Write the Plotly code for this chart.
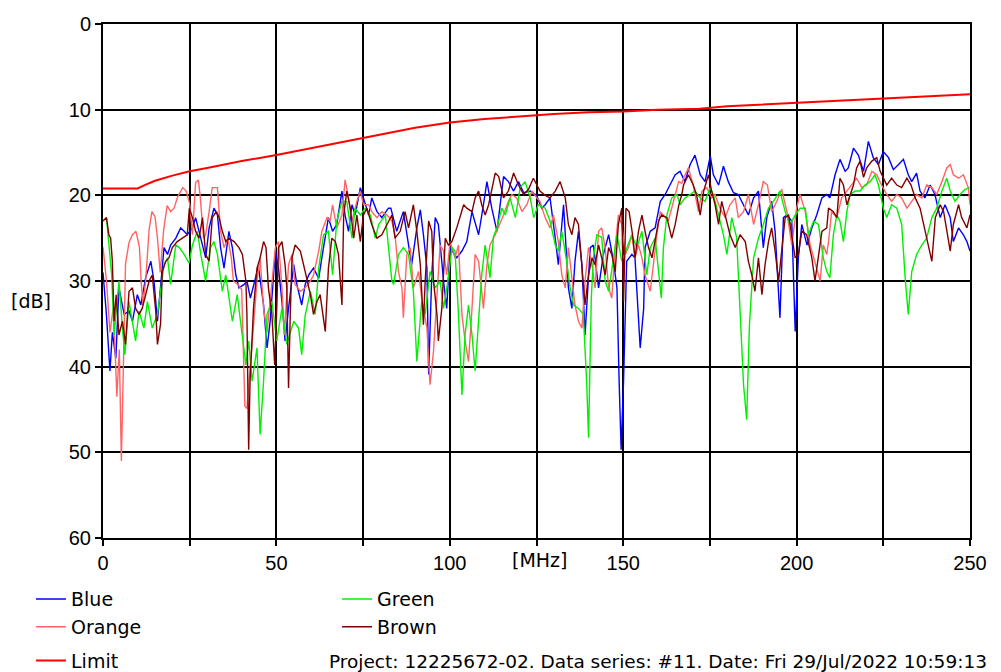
import plotly.graph_objects as go

# ---------------- data (frequency in MHz, level in dB) ----------------
blue_f = [0, 1, 2, 2.7, 3.7, 4.6, 6.1, 7.5, 8.5, 9.9, 10.9, 12.3, 13.8, 14.7, 15.7, 16.6, 17.6, 18.6, 19.5, 21, 22.4, 23.4, 24.3, 25.8, 26.7, 27.7, 28.7, 29.6, 30.6, 32, 33, 33.9, 34.9, 36.3, 37.3, 38.3, 39.2, 40.7,
          41.5, 42.5, 44.8, 46.3, 47.3, 48.2, 49.7, 50.6, 51.6, 52.5, 53.5, 55, 55.9, 57.3, 58.3, 59.3, 60.7, 62.2, 63.1, 64.1, 65, 66.2, 67.4, 68.9, 69.8, 70.8, 71.8, 72.7, 74.2, 75.1, 76.6, 77.5, 79, 80.4, 82.3,
          83, 84.7, 86.6, 88.1, 89, 90.5, 91.5, 92.4, 93.4, 93.9, 94.8, 95.8, 96.7, 98.2, 99.1, 100.1, 102, 103.5, 104.9, 106.4, 108.3, 109.7, 110.7, 112.1, 113.6, 115.5, 116.9, 118.4, 119.8, 121.3, 123.2,
          125, 126.5, 127.5, 128.9, 130.4, 131.3, 132.8, 134.2, 135.2, 136.1, 137.1, 138.1, 139, 140.5, 141.4, 142.9, 144.3, 145.8, 147.2, 148.2, 148.8, 149.4, 150.1, 151, 152.5, 153.4, 154.9, 155.9, 156.3, 157.8, 159.2, 160.7, 162.1, 163.5, 165,
          166.4, 167.8, 169.3, 170.7, 172.2, 173.6, 175.1, 176, 177.5, 178.9, 180.3, 181.8, 183.2, 184.7, 186.1, 187.6, 189, 190.4, 191.4, 192.8, 193.8, 195.2, 196.2, 197.2, 198.6, 199.6, 200.5, 201.5, 203, 204.4, 205.8, 207.3, 208.7,
          209.6, 211.1, 212.5, 214, 214.9, 216.4, 217.8, 219.3, 220.7, 222.1, 223.6, 225, 226.5, 227.9, 229.4, 230.8, 232.2, 233.2, 234.6, 235.6, 237, 238.5, 239.9, 241.4, 242.8, 244.3, 245.2, 246.7, 248.1, 249.1, 250]
blue_db = [29, 34, 40.5, 36, 39, 30.8, 33.9, 33.5, 34.7, 31.6, 32.8, 29.6, 27.7, 30, 34.7, 30.8, 26.1, 26.9, 25.8, 25, 23.8, 24.2, 24.6, 23.8, 22.6, 24.2, 25.8, 27.3, 23.8, 21.5, 22.3, 26.1, 28.5, 24.2, 26.1, 29.3, 30.8, 30.4,
           30, 32, 28.3, 32.8, 37.8, 34.7, 26.5, 28.5, 32.4, 37, 33.2, 28.1, 30.4, 32.8, 30.4, 29.3, 28.5, 29.7, 27.3, 24.6, 22.6, 24.2, 23.4, 19.5, 22.3, 24.2, 21.1, 22.3, 19.1, 20.3, 22.3, 20.3, 21.9, 22.6, 21.5,
           21.5, 24.2, 21.9, 26.1, 28.1, 23.8, 21.7, 24.6, 28.5, 40.9, 29.3, 22.6, 23.4, 30, 33.2, 26.1, 27.3, 26.5, 25.4, 21.9, 24.6, 21.1, 18.4, 21.5, 24.2, 17.8, 18.4, 19.5, 18.4, 19.7, 19.5,
           20, 21.5, 21.1, 20.3, 25, 28.1, 21.1, 30.8, 33.2, 27.7, 24.2, 28.1, 36.3, 26.1, 25.8, 30.8, 26.9, 24.6, 27.7, 30.8, 41.3, 49.7, 41.7, 27.7, 26.9, 27.3, 37.8, 33.2, 26.1, 24.2, 23.8, 20.7, 19.9, 18.8, 17.6,
           17.2, 18.4, 16.4, 15.3, 17.6, 18.4, 15.4, 17.6, 18.8, 16.6, 18.4, 19.7, 19.9, 21.1, 22.3, 20.3, 19.5, 26.1, 22.6, 20.7, 24.2, 34.3, 22.6, 22.3, 23, 35.9, 27.3, 23.4, 25.8, 23.8, 22.3, 20.3, 19.9,
           20.3, 17.6, 15.8, 17.2, 16.8, 14.5, 15.3, 17.2, 13.7, 15.6, 16.4, 14.9, 15.6, 17, 16.4, 15.8, 17.6, 18.4, 17.4, 19.5, 20.3, 18.8, 19.9, 22.6, 21.1, 22.6, 25.4, 23.8, 24.6, 25.4, 26.5]

green_f = [1, 1.7, 2.5, 3.2, 3.7, 4.6, 5.6, 6.3, 7.5, 8.5, 9.4, 10.4, 11.8, 12.8, 14.2, 15.7, 16.6, 17.6, 18.6, 19.5, 21, 22, 23.4, 24.8, 25.8, 27.2, 28.2, 29.6, 31, 32, 33, 34.4, 35.4, 37.3, 38.7, 40.2, 41.2,
           42, 43, 44.4, 45.3, 46.3, 47.3, 48.7, 50.1, 51.6, 53, 55, 56.4, 57.3, 58.3, 59.8, 61.2, 62.2, 63.6, 65, 66.2, 67.4, 68.9, 70.3, 71.8, 72.7, 74.2, 75.6, 77.1, 78.5, 79.5, 81.4, 83.3,
           83.8, 85.2, 86.6, 88.1, 89.5, 90.5, 91.9, 92.9, 94.3, 95.8, 97.2, 98.2, 99.6, 100.6, 101.5, 102.5, 103.5, 104.4, 105.4, 106.4, 107.3, 108.3, 109.2, 110.2, 111.6, 112.6, 113.6, 115, 116, 117.4, 118.9, 120.3, 121.7, 123.2, 124.2,
           125.5, 127.5, 128.9, 130.4, 131.3, 132.3, 133.7, 134.7, 135.7, 137.1, 138.5, 139.5, 140, 140.8, 141.4, 142.4, 143.8, 144.8, 145.8, 147.2, 148.2, 149.6, 151, 152.5, 153.9, 155.4, 156.8, 157.8, 159.2, 161, 161.6, 162.6, 164, 165.5,
           166.4, 167.8, 169.3, 170.7, 172.2, 173.6, 175.1, 176, 177.5, 178.9, 179.9, 181.3, 182.7, 183.7, 184.7, 185.6, 186.4, 187.6, 189, 190.4, 191.9, 193.3, 195.2, 196.7, 198.1, 199.6, 201, 202.5, 203.4, 204.9, 206.3, 207.7,
           208.7, 209.6, 210.6, 211.6, 212.5, 213.5, 214.5, 215.4, 216.9, 218.3, 219.7, 221.2, 222.6, 223.6, 225, 226, 227.4, 228.9, 230.3, 231.3, 232.2, 233.2, 234.6, 236.1, 237.5, 239, 240.4, 241.9, 243.3, 244.3, 245.7, 247.1, 248.6, 250]
green_db = [22.6, 25.5, 29.3, 36.3, 34, 30, 35.5, 38.6, 32.4, 34.7, 37, 33.5, 35.5, 32.4, 35.5, 33.9, 30.8, 28.1, 27.3, 30.4, 25.8, 26.1, 26.9, 27.9, 25.8, 24.2, 26.9, 30, 26.1, 25.4, 26.9, 31.2, 29.3, 34.7, 31.6, 36.3, 39.8,
            37, 41.7, 37.8, 47.9, 41.7, 33.9, 32.4, 37, 33.2, 37.4, 34.7, 35.5, 38.6, 34, 31.2, 33.9, 28.5, 24.6, 24.2, 29.3, 23, 20.7, 20.7, 25, 21.5, 22.3, 21.5, 22.3, 25, 23.4, 22.3, 30,
            30.4, 26.9, 26.1, 26.9, 31.2, 39.4, 32.4, 33.9, 28.9, 30.8, 30, 33.2, 29.6, 26.1, 26.5, 33.9, 43.3, 36.3, 32.8, 36.3, 40.5, 34.3, 29.3, 25.8, 29.6, 24.8, 23.8, 21.5, 22.3, 20.3, 22.6, 19.1, 18.4, 20.3, 22.6,
            21.1, 21.5, 23, 25.8, 26.5, 24.2, 27.7, 30.8, 32.8, 33.2, 33.9, 42.1, 48.3, 32, 27.3, 24.6, 24.9, 30, 31.2, 27.3, 24.6, 27.7, 26.1, 24.6, 26.1, 24.2, 29.3, 26.1, 25, 32, 26.1, 22.3, 20.3, 19.9,
            21.1, 20.3, 19.9, 19.5, 20.3, 20.7, 19.1, 19.9, 22.3, 24.6, 26.9, 22.6, 24.9, 34.3, 42.1, 46.2, 35.1, 27.3, 25, 23.4, 21.5, 20.7, 19.5, 21.9, 23.4, 22.3, 21.5, 21.5, 24.6, 23, 23.4, 27.3,
            28.9, 29.6, 24.6, 22.3, 23, 25.4, 21.9, 19.9, 19.5, 19.5, 18.8, 18.4, 17.6, 18.8, 21.5, 22.6, 21.1, 21.5, 23.4, 29.6, 33.9, 28.9, 26.9, 25.8, 25, 22.6, 21.5, 19.5, 18, 19.5, 20.7, 19.9, 19.3, 19.1]

orange_f = [0, 1, 2, 3, 4, 4.7, 5.3, 5.8, 6.5, 7.5, 8.5, 9.5, 10.5, 11, 11.5, 12.3, 13.3, 14.1, 15, 15.7, 16.5, 17.5, 18.5, 19.5, 20.5, 21.5, 22.5, 23, 24, 25, 25.8, 26.7, 27.5, 28, 29, 29.6, 30.6, 31.5, 33, 33.9, 34.9, 36, 37, 37.6, 38.9, 40, 40.9,
            41.5, 42.9, 44.4, 45.3, 46.3, 47.3, 48.7, 49.7, 50.6, 51.6, 52.3, 53.5, 54.5, 55.4, 56.9, 58.3, 59.8, 60.7, 62.2, 63.1, 64.6, 65.5, 66.2, 67.4, 68.9, 69.8, 70.8, 71.8, 73.2, 74.2, 75.1, 76.6, 77.5, 79, 80.4, 81.9, 83.3,
            84.2, 85.2, 86.2, 86.6, 87.6, 88.6, 89.5, 91, 91.9, 93.4, 94.3, 95.3, 96.3, 97.2, 98.2, 99.1, 100.1, 101.5, 102.5, 103.5, 104.4, 105.4, 106.4, 107.3, 108.3, 109.2, 109.7, 110.7, 111.6, 113.1, 114, 115.5, 116.9, 117.9, 119.3, 120.8, 122.2, 123.7, 125.1,
            126, 127.5, 128.9, 129.9, 131.3, 132.3, 133.3, 134.2, 135.2, 136.1, 137.1, 138.1, 139, 140, 141, 141.9, 142.9, 143.8, 144.8, 145.8, 146.7, 147.7, 148.6, 149.6, 150.6, 151.5, 152.5, 153.4, 154.4, 155.4, 156.3, 157.8, 158.7, 159.7, 160.7, 161.6, 163, 164.5, 166,
            166.9, 167.4, 168.8, 170.2, 171.7, 172.7, 174.1, 175.5, 176.5, 177.9, 179.4, 180.8, 182.3, 183.2, 184.7, 186.1, 187.6, 189, 190.4, 191.6, 192.8, 194.3, 195.7, 197.2, 198.6, 200, 201, 202.5, 203.9, 205.3, 206.8, 207.7, 208.7,
            209.2, 210.1, 211.6, 213, 214.5, 215.9, 217.3, 218.8, 220.2, 221.7, 223.1, 224.5, 226, 227.4, 228.9, 230.3, 231.8, 233.2, 234.6, 236.1, 237.5, 239, 240.4, 241.9, 243.3, 244.3, 245.2, 246.7, 248.1, 249.5, 250]
orange_db = [26, 30, 36, 33, 43.5, 38, 51, 40, 28, 25.5, 24.6, 24.2, 26, 30, 32.8, 30, 24, 21.9, 22.5, 25, 29, 24, 21.2, 21.9, 21.5, 20.2, 19.5, 19.1, 19.5, 21, 24.6, 18.5, 18.2, 20, 25, 24.6, 21.9, 19.1, 19.1, 24.2, 26.1, 25, 27.3, 30, 30.4, 31, 44.6,
             44.9, 37.8, 30, 27.3, 33.2, 36, 30.4, 26.1, 25.4, 30.8, 36.3, 28.1, 26.9, 30.4, 31.2, 30.8, 30, 29.3, 26.5, 24.2, 22.6, 23, 21.1, 23.8, 22.3, 18.2, 20.3, 23, 20.7, 19.5, 21.1, 21.1, 21.9, 22.6, 21.9, 22.3, 23,
             24.6, 28.9, 30.8, 34.3, 26.9, 26.1, 30.8, 28.9, 32, 35.5, 42.1, 38.2, 32, 25.8, 26.5, 29.3, 25.4, 27.3, 25.8, 33.9, 37, 39.4, 33.2, 26.9, 27.7, 30.8, 33.2, 28.1, 25.8, 24.6, 23.8, 22.3, 20.7, 19.9, 20.3, 21.9, 21.1, 19.5, 20.3,
             20.7, 22.6, 23.8, 22.3, 25.4, 29.3, 30.8, 26.1, 29.3, 32.8, 34.7, 35.5, 30, 26.1, 28.1, 30.8, 24.2, 23.8, 26.1, 30.8, 32, 26.1, 22.3, 23.4, 26.9, 26.1, 24.6, 27.3, 25.8, 27.3, 29.3, 31.2, 28.1, 24.6, 21.9, 22.3, 23, 20.7, 18.4,
             18.6, 18, 16.8, 18.8, 21.9, 19.5, 19.1, 20.3, 19.9, 21.5, 22.6, 21.1, 20.3, 22.6, 21.9, 19.9, 23.4, 21.1, 18.4, 18.8, 21.9, 20.7, 19.3, 21.9, 25.8, 21.5, 19.9, 21.9, 25.8, 27.7, 30, 25.8, 26.9,
             25.4, 21.9, 22.6, 20.3, 19.5, 18.8, 18, 19.1, 18.8, 17.2, 17.6, 18.8, 19.9, 20.7, 19.9, 20.3, 21.5, 20.7, 19.9, 20.3, 18.8, 19.1, 19.9, 18.4, 16.8, 16.4, 17.6, 18, 17.6, 19.1, 21.1]

brown_f = [0, 1, 1.7, 2.2, 2.7, 3.2, 3.8, 4.6, 5.6, 6.5, 7.5, 8.5, 9.4, 10.4, 11.3, 12.3, 13.3, 14.2, 15.2, 15.7, 16.6, 17.1, 18.1, 19, 20, 21.4, 22.9, 24.3, 24.9, 25.8, 26.7, 27.7, 28.7, 29.6, 30.6, 31.5, 32.7, 33.5, 34.4, 35.4, 36.3, 37.8, 39.2, 40.2, 41.2,
           41.5, 42, 42.4, 43.4, 44.4, 45.3, 46.3, 47, 47.7, 48.7, 49.5, 50.1, 50.6, 51.6, 52.5, 53, 53.5, 54, 54.5, 55.4, 56.9, 58.3, 59.8, 60.7, 61.7, 62.6, 63.6, 64.1, 65, 66, 67, 67.9, 68.9, 69.4, 70.3, 71.3, 72.3, 73.2, 74.2, 75.1, 76.1, 77.5, 79, 80.4, 81.9, 83.3,
           84.2, 85.7, 87.1, 88.1, 89.5, 90.5, 91.5, 92.4, 92.9, 93.9, 94.8, 95.3, 96.3, 96.7, 97.7, 98.7, 99.6, 100.6, 102, 103, 104, 104.9, 106.4, 107.3, 108.3, 109.2, 110.2, 111.2, 112.1, 113.1, 114.1, 115.5, 116.9, 118.4, 119.8, 121.3, 122.7, 124.1, 125.1,
           126, 127.5, 128.9, 130.4, 131.8, 133.3, 134.2, 135.2, 136.1, 137.1, 138.1, 139, 140, 141, 141.9, 142.9, 143.8, 144.8, 145.8, 146.7, 147.7, 148.6, 149.6, 150.1, 150.8, 151.7, 152.7, 153.4, 154.4, 155.4, 156.3, 157.3, 158.3, 159.2, 160.2, 161.1, 162.6, 164, 165, 166,
           166.9, 167.4, 168.8, 170.2, 171.2, 172.2, 173.2, 174.6, 175.5, 176.5, 177.5, 178.4, 179.4, 180.8, 182.3, 183.7, 185.2, 186.1, 187.1, 188, 189, 190, 190.9, 191.9, 192.8, 193.8, 194.8, 195.7, 196.7, 197.7, 198.6, 199.6, 200.5, 201.5, 202.9, 204.4, 205.3, 206.3, 207.3, 208.7,
           209.2, 210.6, 211.6, 212.5, 213.5, 214.5, 215.4, 216.4, 217.3, 218.3, 219.3, 220.2, 221.7, 223.1, 224.1, 225, 226, 227.4, 228.9, 230.3, 231.8, 233, 234.2, 235.6, 237, 238, 239, 240, 241.4, 242.4, 243.3, 244.3, 245.2, 246.7, 247.6, 249.1, 250]
brown_db = [23, 22.6, 24.6, 25, 27.7, 34.7, 31.6, 36.3, 34.7, 37.4, 31.2, 30.8, 33.2, 33.9, 33.2, 31.6, 30, 29.3, 33.5, 37.4, 35, 28.9, 27.7, 27.3, 26.1, 25.4, 25, 24.6, 21.5, 22.6, 24.2, 25, 22.6, 26.9, 27.7, 22.6, 21.9, 22.6, 24.2, 25.4, 25, 25.4, 26.1, 26.9, 30,
            33.9, 49.7, 41.7, 33.2, 28.5, 27.3, 25.4, 26.1, 30.8, 33.9, 39.8, 33.2, 26.1, 25.4, 28.1, 30.8, 42.5, 33.9, 27.3, 25.8, 26.5, 28.9, 31.6, 33.9, 32.4, 31.6, 34.7, 35.9, 28.5, 25, 25.4, 26.9, 32.8, 22.3, 19.5, 21.5, 25, 22.3, 25.4, 22.3, 21.5, 23.4, 25, 24.6, 23.4, 22.3,
            25, 24.2, 21.9, 23.8, 21.1, 24.2, 28.1, 35.1, 30, 23, 24.2, 30, 33.9, 37, 33.2, 25, 25.8, 25.4, 23.8, 22.3, 21.1, 21.5, 21.9, 20.3, 19.5, 21.1, 22.3, 21.1, 19.5, 17.4, 17.8, 20.3, 19.5, 17.4, 18.8, 19.9, 19.3, 18, 18.8,
            19.5, 20, 20.3, 19.5, 18.4, 20.3, 23.4, 24.6, 22.6, 23.4, 28.1, 32.8, 29.3, 27.3, 28.1, 25.8, 27.3, 29.3, 26.1, 26.9, 28.9, 23.4, 21.5, 32.4, 21.5, 21.9, 24.6, 27.3, 24.2, 22.3, 24.2, 26.1, 27.3, 25, 23, 22.3, 22.6, 25, 23.4, 21.2,
            19.9, 18.8, 17.6, 18.8, 20, 22.3, 19.5, 17.6, 19.5, 21.1, 23.4, 20.7, 22.3, 24.6, 26.1, 24.6, 25.4, 27.7, 29.3, 31.2, 27.3, 31.6, 28.1, 25.4, 23.8, 26.5, 30, 26.5, 22.6, 22.3, 24.6, 27.3, 26.9, 24.2, 24.6, 27.3, 30, 26.9, 24.2, 23.8,
            21.5, 21.9, 22.6, 18, 18.8, 21.1, 19.9, 18.8, 16.8, 16, 17.9, 16.8, 16, 15.6, 17.2, 18, 18.8, 18, 18.8, 19.1, 18, 18.8, 20.3, 21.5, 24.2, 25.8, 27.7, 22.6, 21.1, 21.9, 24.2, 26.5, 23.4, 21.1, 22.6, 23.8, 22.3]

limit_f = [0, 10, 12, 15, 20, 25, 30, 40, 50, 60, 71, 80, 90, 100, 110, 120, 130, 140, 150, 160, 172, 180, 190, 200, 210, 225, 240, 250]
limit_db = [19.2, 19.2, 18.8, 18.3, 17.7, 17.2, 16.8, 16.0, 15.3, 14.5, 13.7, 12.9, 12.1, 11.5, 11.1, 10.8, 10.5, 10.3, 10.2, 10.0, 9.9, 9.6, 9.4, 9.2, 9.0, 8.7, 8.4, 8.2]

x_ticks = [0, 25, 50, 75, 100, 125, 150, 175, 200, 225, 250]
x_ticktext = ["0", "", "50", "", "100", "", "150", "", "200", "", "250"]
y_ticks = [0, 10, 20, 30, 40, 50, 60]

footer = "Project: 12225672-02. Data series: #11. Date: Fri 29/Jul/2022 10:59:13"

# ---------------- figure ----------------
TICKFONT = "Liberation Sans, Arial, sans-serif"
TEXTFONT = "DejaVu Sans, sans-serif"
fig = go.Figure()

# name, x, y, colour, width, legend, group
series = [
    ("Blue", blue_f, blue_db, "#0000FF", 1.4, "legend", "a"),
    ("Orange", orange_f, orange_db, "#FF6464", 1.4, "legend", "a"),
    ("Green", green_f, green_db, "#00F000", 1.4, "legend2", "c"),
    ("Brown", brown_f, brown_db, "#800000", 1.4, "legend2", "c"),
    ("Limit", limit_f, limit_db, "#FF0000", 2.0, "legend", "b"),
]
for name, xf, yd, col, w, leg, grp in series:
    fig.add_trace(go.Scatter(x=xf, y=yd, mode="lines", name=name,
                             line=dict(color=col, width=w),
                             legend=leg, legendgroup=grp))

fig.update_xaxes(range=[0, 250], tickvals=x_ticks, ticktext=x_ticktext,
                 showgrid=True, gridcolor="black", gridwidth=2,
                 showline=True, mirror=True, linecolor="black", linewidth=2,
                 ticks="outside", ticklen=6, tickcolor="black", tickwidth=1.5,
                 zeroline=False, tickfont=dict(family=TICKFONT, size=20, color="black"))
fig.update_yaxes(range=[60, 0], tickvals=y_ticks,
                 showgrid=True, gridcolor="black", gridwidth=2,
                 showline=True, mirror=True, linecolor="black", linewidth=2,
                 ticks="outside", ticklen=6, tickcolor="black", tickwidth=1.5,
                 zeroline=False, tickfont=dict(family=TICKFONT, size=20, color="black"))

fig.add_annotation(text="[MHz]", xref="paper", yref="paper", x=0.504, y=-0.043,
                   showarrow=False, xanchor="center", yanchor="middle",
                   font=dict(family=TEXTFONT, size=19, color="black"))
fig.add_annotation(text="[dB]", xref="paper", yref="paper", x=-0.083, y=0.461,
                   showarrow=False, xanchor="center", yanchor="middle",
                   font=dict(family=TEXTFONT, size=19, color="black"))
fig.add_annotation(text=footer, xref="paper", yref="paper", x=0.258, y=-0.24,
                   showarrow=False, xanchor="left", yanchor="middle",
                   font=dict(family=TEXTFONT, size=18.5, color="black"))

legend_font = dict(family=TEXTFONT, size=19, color="black")
fig.update_layout(
    width=1001, height=672,
    # page body adds an 8px offset, so margins are shifted to place the plot area
    margin=dict(l=95, r=39, t=16, b=142, autoexpand=False),
    paper_bgcolor="white", plot_bgcolor="white",
    font=dict(family=TEXTFONT, size=19, color="black"),
    showlegend=True,
    legend=dict(orientation="v", x=-0.083, y=-0.082, xanchor="left", yanchor="top",
                bgcolor="rgba(0,0,0,0)", font=legend_font,
                traceorder="grouped", tracegroupgap=6),
    legend2=dict(orientation="v", x=0.27, y=-0.082, xanchor="left", yanchor="top",
                 bgcolor="rgba(0,0,0,0)", font=legend_font,
                 traceorder="grouped", tracegroupgap=6),
)

fig.write_html("out.html")
